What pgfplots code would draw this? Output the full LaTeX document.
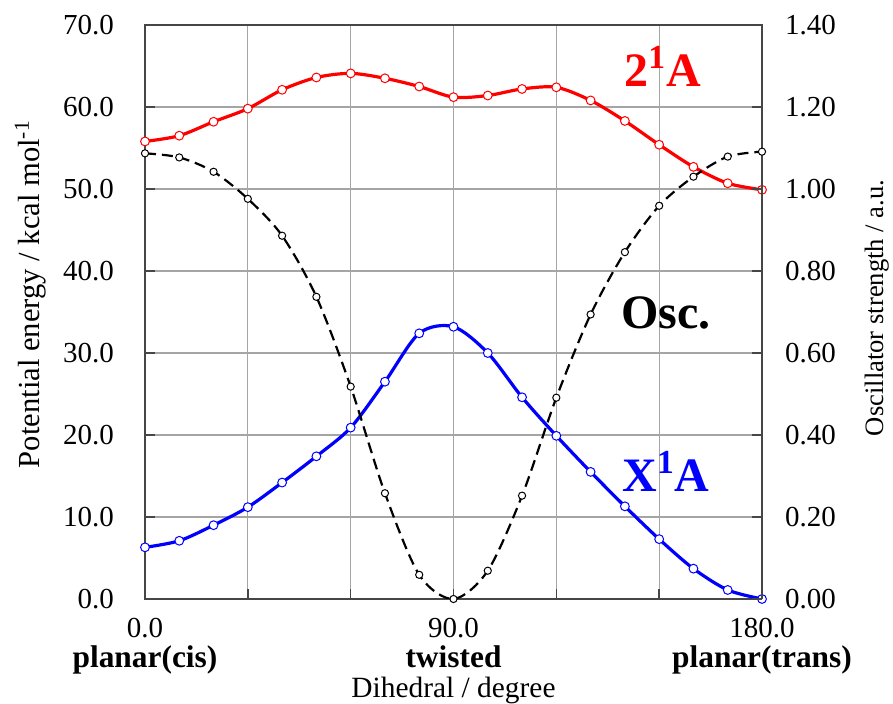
\documentclass[border=0pt]{standalone}
\usepackage{fontspec}
\setmainfont{Liberation Serif}
\usepackage{pgfplots}
\pgfplotsset{compat=1.18}
\definecolor{gridgray}{RGB}{165,165,165}
\definecolor{framegray}{RGB}{70,70,70}

\begin{document}
\begin{tikzpicture}
\pgfplotsset{
  every axis/.append style={
    scale only axis, width=308.5pt, height=287pt,
    xmin=0, xmax=180,
    at={(0,0)}, anchor=south west,
    font=\fontsize{14.5}{14}\selectfont,
    /pgf/number format/assume math mode=true,
    major tick length=5pt,
    tick style={framegray, line width=0.7pt},
    axis line style={framegray, line width=0.8pt},
    clip mode=individual,
  }
}
\useasboundingbox (-72.5pt,-52.5pt) rectangle (374pt,299.5pt);

% energies, left axis
\begin{axis}[
  ymin=0, ymax=70, ytick={0,10,...,70},
  xtick={0,30,...,180},
  xticklabels={
    {0.0\\[1pt]{\fontsize{15.7}{14}\selectfont\bfseries planar(cis)}},{},{},
    {90.0\\[1pt]{\fontsize{15.7}{14}\selectfont\bfseries twisted}},{},{},
    {180.0\\[1pt]{\fontsize{15.7}{14}\selectfont\bfseries planar(trans)}}},
  xticklabel style={align=center, yshift=-6pt},
  xtick pos=bottom, ytick pos=left,
  yticklabel style={xshift=-12pt, /pgf/number format/fixed,
    /pgf/number format/fixed zerofill, /pgf/number format/precision=1},
  grid=major, grid style={gridgray, line width=0.6pt},
  xlabel={Dihedral / degree},
  xlabel style={at={(axis description cs:0.5,-0.160)}, anchor=center,
    font=\fontsize{14.7}{16}\selectfont},
  ylabel={Potential energy / kcal mol\textsuperscript{-1}},
  ylabel style={at={(axis description cs:-0.186,0.531)}, anchor=center,
    font=\fontsize{15.3}{16}\selectfont},
]
\addplot[red, line width=1.6pt, smooth, mark=*, mark size=2.2pt,
  mark options={fill=white, draw=red, line width=0.5pt, solid}] coordinates {
  (0,55.8) (10,56.5) (20,58.2) (30,59.8) (40,62.1) (50,63.6) (60,64.1)
  (70,63.5) (80,62.5) (90,61.2) (100,61.4) (110,62.2) (120,62.4)
  (130,60.8) (140,58.3) (150,55.4) (160,52.7) (170,50.7) (180,49.9)
};
\addplot[blue, line width=1.6pt, smooth, mark=*, mark size=2.2pt,
  mark options={fill=white, draw=blue, line width=0.5pt, solid}] coordinates {
  (0,6.3) (10,7.1) (20,9.0) (30,11.2) (40,14.2) (50,17.4) (60,20.9)
  (70,26.5) (80,32.4) (90,33.2) (100,30.0) (110,24.6) (120,19.9)
  (130,15.5) (140,11.3) (150,7.3) (160,3.7) (170,1.1) (180,0.0)
};
\node[red, font=\fontsize{24}{26}\selectfont\bfseries] at (axis cs:151,65.0) {2\textsuperscript{1}A};
\node[black, font=\fontsize{24}{26}\selectfont\bfseries] at (axis cs:152,34.9) {Osc.};
\node[blue, font=\fontsize{24}{26}\selectfont\bfseries] at (axis cs:152,15.6) {X\textsuperscript{1}A};
\end{axis}

% oscillator strength, right axis
\begin{axis}[
  axis x line=none, axis y line*=right,
  ymin=0, ymax=1.4, ytick={0,0.2,0.4,0.6,0.8,1.0,1.2,1.4},
  yticklabel style={xshift=8pt, /pgf/number format/fixed,
    /pgf/number format/fixed zerofill, /pgf/number format/precision=2},
  ylabel={Oscillator strength / a.u.},
  ylabel style={at={(axis description cs:1.186,0.507)}, anchor=center,
    font=\fontsize{13.3}{15}\selectfont},
]
\addplot[black, line width=1.1pt, smooth, dash pattern=on 5.5pt off 3pt,
  mark=*, mark size=1.8pt,
  mark options={fill=white, draw=black, line width=0.5pt, solid}] coordinates {
  (0,1.087) (10,1.077) (20,1.042) (30,0.976) (40,0.886) (50,0.737) (60,0.518)
  (70,0.258) (80,0.059) (90,0.000) (100,0.069) (110,0.252) (120,0.491)
  (130,0.694) (140,0.846) (150,0.959) (160,1.030) (170,1.079) (180,1.091)
};
\end{axis}
\end{tikzpicture}
\end{document}
